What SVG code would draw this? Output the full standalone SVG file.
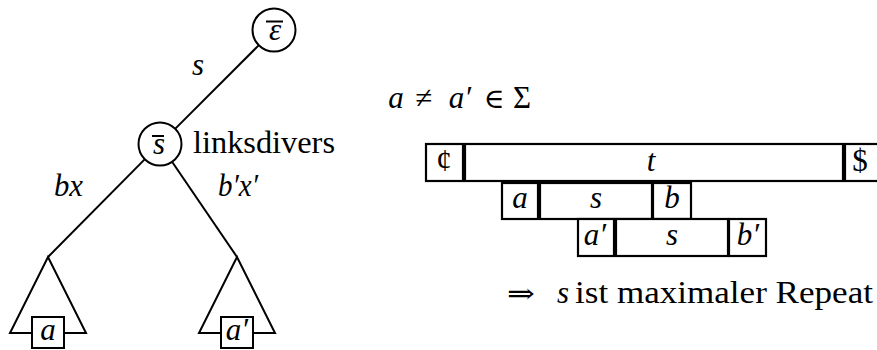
<svg xmlns="http://www.w3.org/2000/svg" width="877" height="350" viewBox="0 0 877 350" font-family="'Liberation Serif', 'DejaVu Serif', serif" font-size="31">
<style>
  .ln { stroke: #000; stroke-width: 2; fill: none; }
  .node { stroke: #000; stroke-width: 2; fill: #fff; }
  .cell { stroke: #000; stroke-width: 2.2; fill: #fff; }
  .t { font-family: 'Liberation Serif', 'DejaVu Serif', serif; font-size: 31px; fill: #000; }
  .m { font-style: italic; }
  .c { text-anchor: middle; }
  .sym { font-family: 'DejaVu Serif', 'Liberation Serif', serif; font-size: 28px; }
</style>
<rect width="877" height="350" fill="#fff"/>

<g id="connectors">
  <line class="ln" x1="258.4" y1="45.6" x2="175.6" y2="128.4"/>
  <line class="ln" x1="144.4" y1="159.6" x2="48" y2="257"/>
  <line class="ln" x1="172.4" y1="162.2" x2="237" y2="257"/>
  <text class="t m" x="192" y="75">s</text>
  <text class="t m" x="54" y="196" textLength="29" lengthAdjust="spacingAndGlyphs">bx</text>
  <text class="t m" x="218" y="196" textLength="40" lengthAdjust="spacingAndGlyphs">b′x′</text>
</g>

<g id="root">
  <circle class="node" cx="274" cy="30" r="21.5"/>
  <line class="ln" x1="266" y1="21.5" x2="283" y2="21.5"/>
  <text class="t m c" x="275" y="40">ε</text>
</g>

<g id="sbar">
  <circle class="node" cx="160" cy="144" r="21.5"/>
  <line class="ln" x1="152" y1="136" x2="164" y2="136"/>
  <text class="t m c" x="159" y="154">s</text>
  <text class="t" x="193" y="153" textLength="142" lengthAdjust="spacingAndGlyphs">linksdivers</text>
</g>

<g id="subtree-left">
  <polyline class="ln" points="32,333 10,333 48,257 86,333 64,333"/>
  <rect class="node" x="32" y="317" width="32" height="31"/>
  <text class="t m c" x="48" y="340">a</text>
</g>

<g id="subtree-right">
  <polyline class="ln" points="221,333 199,333 237,257 275,333 253,333"/>
  <rect class="node" x="221" y="317" width="32" height="31"/>
  <text class="t m c" x="237" y="340">a′</text>
</g>

<g id="condition">
  <text class="t m c" x="396" y="108">a</text>
  <text class="t c" x="424" y="108">≠</text>
  <text class="t m c" x="460" y="108">a′</text>
  <text class="t c sym" x="494" y="108">∈</text>
  <text class="t c" x="522" y="108">Σ</text>
</g>

<g id="row-t">
  <rect class="cell" x="426" y="144" width="37" height="37"/>
  <rect class="cell" x="465" y="144" width="378" height="37"/>
  <rect class="cell" x="845" y="144" width="60" height="37"/>
  <text class="t c" x="444" y="171">¢</text>
  <text class="t m c" x="651" y="171">t</text>
  <text class="t c" x="860" y="171">$</text>
</g>

<g id="row-s1">
  <rect class="cell" x="502" y="183" width="36" height="36"/>
  <rect class="cell" x="540" y="183" width="112" height="36"/>
  <rect class="cell" x="653" y="183" width="38" height="36"/>
  <text class="t m c" x="520" y="208">a</text>
  <text class="t m c" x="596" y="208">s</text>
  <text class="t m c" x="672" y="208">b</text>
</g>

<g id="row-s2">
  <rect class="cell" x="578" y="219" width="36" height="37"/>
  <rect class="cell" x="616" y="219" width="112" height="37"/>
  <rect class="cell" x="729" y="219" width="37" height="37"/>
  <text class="t m c" x="595" y="245">a′</text>
  <text class="t m c" x="672" y="245">s</text>
  <text class="t m c" x="748" y="245">b′</text>
</g>

<g id="conclusion">
  <text class="t sym" x="507" y="303" textLength="28" lengthAdjust="spacingAndGlyphs">⇒</text>
  <text class="t m" x="557" y="303">s</text>
  <text class="t" x="575" y="303" textLength="298" lengthAdjust="spacingAndGlyphs">ist maximaler Repeat</text>
</g>
</svg>
